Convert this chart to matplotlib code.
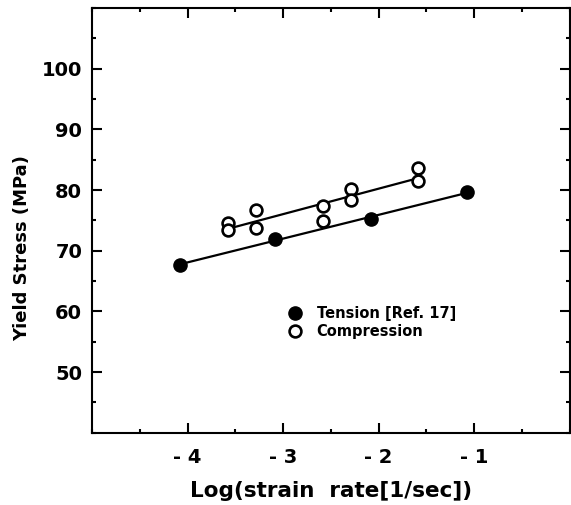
import numpy as np
import matplotlib.pyplot as plt
from matplotlib.ticker import MultipleLocator

plt.rcParams['font.family'] = ['DejaVu Sans']
plt.rcParams['font.weight'] = 'bold'

# tension data (Ref. 17)
tens_x = [-4.08, -3.08, -2.08, -1.08]
tens_y = [67.7, 72.0, 75.2, 79.7]

# compression data
comp_x = [-3.58, -3.58, -3.28, -3.28, -2.58, -2.58, -2.29, -2.29, -1.59, -1.59]
comp_y = [74.6, 73.4, 76.7, 73.8, 77.4, 74.9, 80.2, 78.4, 83.6, 81.5]

xtick_vals = [-4, -3, -2, -1]
xtick_text = ['- 4', '- 3', '- 2', '- 1']
ytick_vals = [50, 60, 70, 80, 90, 100]

fig = plt.figure(figsize=(5.71, 5.05), dpi=100)
ax = fig.add_axes([0.161, 0.143, 0.837, 0.841])

# fitted lines
pt = np.polyfit(tens_x, tens_y, 1)
xt = np.array([min(tens_x), max(tens_x)])
ax.plot(xt, np.polyval(pt, xt), color='black', lw=1.6, zorder=1)
pc = np.polyfit(comp_x, comp_y, 1)
xc = np.array([min(comp_x), max(comp_x)])
ax.plot(xc, np.polyval(pc, xc), color='black', lw=1.6, zorder=1)

ax.plot(tens_x, tens_y, 'o', color='black', ms=9.5, label='Tension [Ref. 17]', zorder=3)
ax.plot(comp_x, comp_y, 'o', mfc='white', mec='black', mew=1.9, ms=8.5,
        label='Compression', zorder=3)

ax.set_xlim(-5, 0)
ax.set_ylim(40, 110)
ax.set_xticks(xtick_vals)
ax.set_xticklabels(xtick_text)
ax.set_yticks(ytick_vals)
ax.xaxis.set_minor_locator(MultipleLocator(0.5))
ax.yaxis.set_minor_locator(MultipleLocator(5))
ax.tick_params(which='both', direction='in', top=True, right=True, width=1.5, labelsize=14)
ax.tick_params(which='major', length=7)
ax.tick_params(which='minor', length=3)
ax.tick_params(axis='x', pad=11)
ax.tick_params(axis='y', pad=7)
for s in ax.spines.values():
    s.set_linewidth(1.5)

ax.set_xlabel('Log(strain  rate[1/sec])', fontsize=15.5, fontweight='bold', labelpad=10)
ax.set_ylabel('Yield Stress (MPa)', fontsize=13, fontweight='bold')
ax.yaxis.set_label_coords(-0.127, 0.435)

leg = ax.legend(loc='upper left', bbox_to_anchor=(0.40, 0.313), frameon=False,
                fontsize=10.5, handlelength=0.8, handletextpad=1.1, labelspacing=0.25,
                borderaxespad=0)

fig.savefig('out.png', dpi=100)
